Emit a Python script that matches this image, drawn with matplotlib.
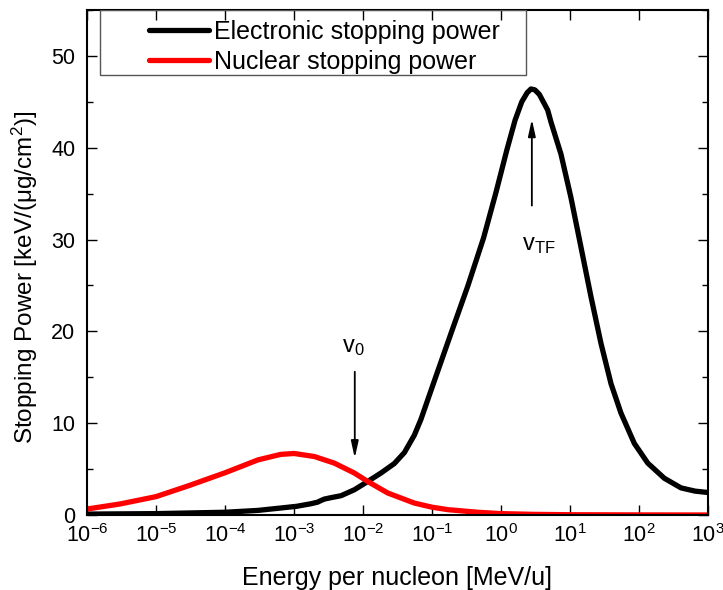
import matplotlib
matplotlib.use("Agg")
import matplotlib.pyplot as plt
from matplotlib.patches import Rectangle
from matplotlib.ticker import FixedLocator, NullLocator, MultipleLocator

plt.rcParams['font.family'] = ['Liberation Sans', 'DejaVu Sans']
plt.rcParams['mathtext.fontset'] = 'custom'
plt.rcParams['mathtext.rm'] = 'Liberation Sans'
plt.rcParams['mathtext.it'] = 'Liberation Sans'
plt.rcParams['mathtext.default'] = 'regular'

# Electronic stopping power (energy MeV/u, keV/(ug/cm2))
e_energy = [1e-6, 1e-5, 1e-4, 3e-4, 6.4e-4, 1.1e-3, 1.77e-3, 2.2e-3, 2.5e-3, 2.77e-3,
            3.5e-3, 4.8e-3, 7.5e-3, 1.17e-2, 1.82e-2, 2.84e-2, 3.98e-2, 5.55e-2, 6.9e-2, 0.114,
            0.193, 0.329, 0.56, 0.85, 1.22, 1.6, 2.0, 2.4, 2.72, 3.1, 3.6, 4.75, 5.3, 7.4,
            10.3, 14.4, 20.1, 28.1, 39.3, 54.8, 85.5, 134, 233, 407, 650, 1000]
e_power = [0.1, 0.15, 0.3, 0.5, 0.76, 0.95, 1.23, 1.4, 1.6, 1.74,
           1.9, 2.1, 2.75, 3.65, 4.57, 5.6, 6.8, 8.7, 10.4, 15.1,
           20.0, 24.9, 30.2, 35.2, 39.8, 43.0, 45.0, 46.0, 46.4, 46.3, 45.8, 44.1, 42.8, 39.3,
           34.6, 29.2, 23.8, 18.7, 14.3, 11.1, 7.8, 5.65, 4.0, 2.95, 2.6, 2.45]

# Nuclear stopping power
n_energy = [1e-6, 3e-6, 1e-5, 3e-5, 1e-4, 3e-4, 6.4e-4, 1e-3, 1.97e-3, 3.84e-3, 7.5e-3,
            1.17e-2, 2.29e-2, 5.55e-2, 0.1, 0.17, 0.46, 1.0, 3.0, 10, 100, 1000]
n_power = [0.65, 1.2, 2.0, 3.2, 4.6, 6.0, 6.6, 6.7, 6.37, 5.65, 4.57,
           3.65, 2.39, 1.30, 0.85, 0.58, 0.3, 0.15, 0.07, 0.03, 0.01, 0.0]

x_ticks = [1e-6, 1e-5, 1e-4, 1e-3, 1e-2, 1e-1, 1e0, 1e1, 1e2, 1e3]
x_tick_labels = [r'$10^{-6}$', r'$10^{-5}$', r'$10^{-4}$', r'$10^{-3}$', r'$10^{-2}$',
                 r'$10^{-1}$', r'$10^{0}$', r'$10^{1}$', r'$10^{2}$', r'$10^{3}$']
y_ticks = [0, 10, 20, 30, 40, 50]

fig = plt.figure(figsize=(7.23, 5.90), dpi=100)
ax = fig.add_axes([87/723, 75/590, (708-87)/723, (515-10)/590])

ax.plot(e_energy, e_power, color='black', lw=3.8, solid_capstyle='round',
        solid_joinstyle='round', label='Electronic stopping power')
ax.plot(n_energy, n_power, color='#ff0000', lw=3.8, solid_capstyle='round',
        solid_joinstyle='round', label='Nuclear stopping power')

ax.set_xscale('log')
ax.set_xlim(1e-6, 1e3)
ax.set_ylim(0, 55)
ax.xaxis.set_major_locator(FixedLocator(x_ticks))
ax.set_xticklabels(x_tick_labels)
ax.xaxis.set_minor_locator(NullLocator())
ax.set_yticks(y_ticks)
ax.yaxis.set_minor_locator(MultipleLocator(5))

ax.tick_params(axis='both', which='both', direction='in', top=True, right=True,
               labelsize=15.5, width=1.0)
ax.tick_params(axis='both', which='major', length=7)
ax.tick_params(axis='x', which='major', pad=6.5)
ax.tick_params(axis='y', which='major', pad=8.5)
ax.tick_params(axis='both', which='minor', length=4)
for s in ax.spines.values():
    s.set_linewidth(1.5)

ax.set_xlabel('Energy per nucleon [MeV/u]', fontsize=18, labelpad=13.5)
ax.set_ylabel(r'Stopping Power [keV/(μg/cm$^{2}$)]', fontsize=17.5)
ax.yaxis.set_label_coords(-0.076, 0.471)

# Annotations
ax.annotate('', xy=(7.6e-3, 6.2), xytext=(7.6e-3, 15.6),
            arrowprops=dict(arrowstyle='-|>,head_width=0.22,head_length=1.0',
                            color='black', lw=1.3, shrinkA=0, shrinkB=0))
ax.text(7.2e-3, 18.3, r'$v_0$', fontsize=17, ha='center', va='center')
ax.annotate('', xy=(2.8, 43.1), xytext=(2.8, 33.7),
            arrowprops=dict(arrowstyle='-|>,head_width=0.22,head_length=1.0',
                            color='black', lw=1.3, shrinkA=0, shrinkB=0))
ax.text(3.5, 29.4, r'$v_{TF}$', fontsize=17, ha='center', va='center')

# Legend box
ax.add_patch(Rectangle(((100-87)/621, (515-75)/505), (526-100)/621, 65/505,
                       transform=ax.transAxes, fill=False, edgecolor='#555555',
                       lw=1.0, zorder=5))
leg = ax.legend(loc='upper left', bbox_to_anchor=((149-87)/621, (515-20)/505),
                frameon=False, fontsize=18, handlelength=2.4, handletextpad=0.2,
                labelspacing=0.22, borderaxespad=0, borderpad=0)

fig.savefig('out.png', dpi=100)
